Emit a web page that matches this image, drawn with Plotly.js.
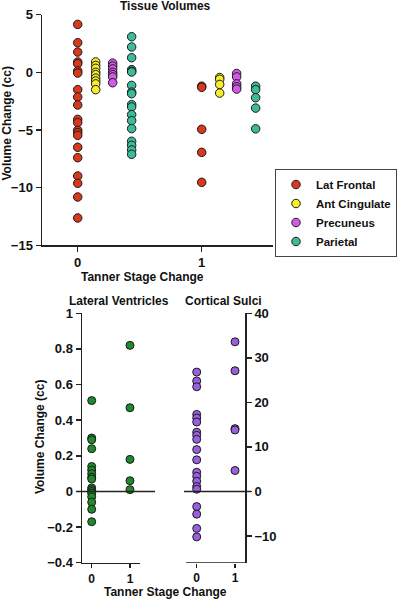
<!DOCTYPE html>
<html><head><meta charset="utf-8">
<script src="https://cdn.plot.ly/plotly-3.0.1.min.js"></script>
<style>html,body{margin:0;padding:0;background:#fff}#chart{width:413px;height:600px}</style>
</head><body><div id="chart"></div>
<script>
// ---- data ----
const seriesNames = ["Lat Frontal", "Ant Cingulate", "Precuneus", "Parietal"];
const latFrontal0 = [4.16, 2.57, 1.76, 0.9, 0.75, 0.12, -0.06, -1.5, -2.14, -2.83, -4.08, -4.36, -5.03, -5.23, -5.46, -6.5, -7.4, -8.99, -9.62, -10.81, -12.63];
const latFrontal1 = [-1.2, -1.3, -4.94, -6.94, -9.54];
const antCingulate0 = [0.9, 0.6, 0.35, 0.0, -0.2, -0.5, -0.75, -1.0, -1.5];
const antCingulate1 = [-0.45, -0.6, -1.05, -1.8];
const precuneus0 = [0.8, 0.55, 0.3, 0.0, -0.2, -0.4, -0.9];
const precuneus1 = [-0.1, -0.4, -1.0, -1.25, -1.45];
const parietal0 = [3.09, 2.2, 1.27, 0.23, 0.1, 0.03, -1.13, -1.71, -1.85, -2.8, -3.0, -3.67, -4.19, -4.88, -5.98, -6.33, -6.73, -7.11];
const parietal1 = [-1.2, -1.5, -2.2, -3.1, -4.9];

const latVent0 = [0.51, 0.30, 0.29, 0.24, 0.14, 0.12, 0.10, 0.08, 0.07, 0.02, 0.01, 0.0, -0.01, -0.03, -0.06, -0.10, -0.17];
const latVent1 = [0.82, 0.47, 0.18, 0.06, 0.01];
const corticalSulci0 = [26.8, 24.8, 23.5, 17.3, 16.5, 15.6, 13.3, 12.6, 11.7, 9.4, 7.1, 4.3, 3.4, 2.3, 1.1, 0.5, -3.4, -5.1, -8.3, -10.2];
const corticalSulci1 = [33.6, 27.1, 14.1, 13.8, 4.7];

const stageTicks = [0, 1];

// ---- styles ----
const groupOffsets = [0, 0.145, 0.282, 0.435];
const topColors = ["#d8381c", "#f7ee2a", "#d35ae6", "#3dbb98"];
const FONT = {family: "Liberation Sans, Arial, sans-serif", size: 13, color: "#111", weight: "bold"};
const TFONT = Object.assign({}, FONT, {size: 12});
const SFONT = Object.assign({}, FONT, {size: 12});
const outline = {color: "#1a1a1a", width: 1};

function stageX(v0, v1, off) {
  return v0.map(() => stageTicks[0] + off).concat(v1.map(() => stageTicks[1] + off));
}

const topSets = [[latFrontal0, latFrontal1], [antCingulate0, antCingulate1], [precuneus0, precuneus1], [parietal0, parietal1]];
const traces = topSets.map((s, i) => ({
  type: "scatter", mode: "markers", name: seriesNames[i],
  x: stageX(s[0], s[1], groupOffsets[i]), y: s[0].concat(s[1]),
  xaxis: "x", yaxis: "y",
  marker: {color: topColors[i], size: 8.5, line: outline}
}));
traces.push({
  type: "scatter", mode: "markers", showlegend: false,
  x: stageX(latVent0, latVent1, 0), y: latVent0.concat(latVent1),
  xaxis: "x2", yaxis: "y2", marker: {color: "#1f8a2c", size: 8, line: outline}
});
traces.push({
  type: "scatter", mode: "markers", showlegend: false,
  x: stageX(corticalSulci0, corticalSulci1, 0), y: corticalSulci0.concat(corticalSulci1),
  xaxis: "x3", yaxis: "y3", marker: {color: "#9a5fe0", size: 8, line: outline}
});

const W = 413, H = 600;
const px = v => v / W, py = v => 1 - v / H;
const axBase = {showgrid: false, zeroline: false, showline: true, linecolor: "#222", linewidth: 1.5,
  ticks: "outside", ticklen: 5, tickwidth: 1.5, tickcolor: "#222", tickfont: FONT, fixedrange: true};

const layout = {
  width: W, height: H, margin: {l: 0, r: 0, t: 0, b: 0},
  paper_bgcolor: "#fff", plot_bgcolor: "rgba(0,0,0,0)",
  font: FONT, showlegend: true,
  legend: {x: px(275), y: py(169), xanchor: "left", yanchor: "top", bordercolor: "#444", borderwidth: 1,
    font: {family: FONT.family, size: 11.5, color: "#111", weight: "bold"}, tracegroupgap: 0, itemwidth: 30},
  xaxis: Object.assign({}, axBase, {domain: [px(42), px(273)], range: [-0.288, 1.575], tickvals: stageTicks, anchor: "y"}),
  yaxis: Object.assign({}, axBase, {domain: [py(245.3), py(14.7)], range: [-15, 5], dtick: 5, tick0: 0, anchor: "x"}),
  xaxis2: Object.assign({}, axBase, {domain: [px(82), px(140)], range: [-0.253, 1.262], tickvals: stageTicks, anchor: "y2", ticklen: 4, tickfont: SFONT}),
  yaxis2: Object.assign({}, axBase, {domain: [py(562.7), py(313.3)], range: [-0.4, 1], dtick: 0.2, tick0: 0, anchor: "x2"}),
  xaxis3: Object.assign({}, axBase, {domain: [px(184), px(245.3)], range: [-0.332, 1.269], tickvals: stageTicks, anchor: "y3", showline: false, ticklen: 4, tickfont: SFONT}),
  yaxis3: Object.assign({}, axBase, {domain: [py(562.7), py(313.3)], range: [-16, 40], dtick: 10, tick0: 0, side: "right", anchor: "x3"}),
  shapes: [
    {type: "line", xref: "paper", yref: "y2", x0: px(76), x1: px(155), y0: 0, y1: 0, line: {color: "#222", width: 1.5}},
    {type: "line", xref: "paper", yref: "y3", x0: px(184), x1: px(251), y0: 0, y1: 0, line: {color: "#222", width: 1.5}},
    {type: "line", xref: "paper", yref: "y3", x0: px(186), x1: px(245.3), y0: -16, y1: -16, line: {color: "#222", width: 1.5}}
  ],
  annotations: [
    {text: "Tissue Volumes", x: px(165.7), y: py(6), xref: "paper", yref: "paper", showarrow: false, xanchor: "center", yanchor: "middle", font: TFONT},
    {text: "Tanner Stage Change", x: px(142.7), y: py(277), xref: "paper", yref: "paper", showarrow: false, xanchor: "center", yanchor: "middle", font: TFONT},
    {text: "Volume Change (cc)", x: px(7), y: py(123.5), xref: "paper", yref: "paper", showarrow: false, textangle: -90, xanchor: "center", yanchor: "middle", font: TFONT},
    {text: "Lateral Ventricles", x: px(119), y: py(301), xref: "paper", yref: "paper", showarrow: false, xanchor: "center", yanchor: "middle", font: TFONT},
    {text: "Cortical Sulci", x: px(223), y: py(301), xref: "paper", yref: "paper", showarrow: false, xanchor: "center", yanchor: "middle", font: TFONT},
    {text: "Volume Change (cc)", x: px(40), y: py(437), xref: "paper", yref: "paper", showarrow: false, textangle: -90, xanchor: "center", yanchor: "middle", font: TFONT},
    {text: "Tanner Stage Change", x: px(165), y: 0, xref: "paper", yref: "paper", showarrow: false, xanchor: "center", yanchor: "bottom", borderpad: 0, font: TFONT}
  ]
};

Plotly.newPlot("chart", traces, layout, {displayModeBar: false, staticPlot: true});
</script></body></html>
